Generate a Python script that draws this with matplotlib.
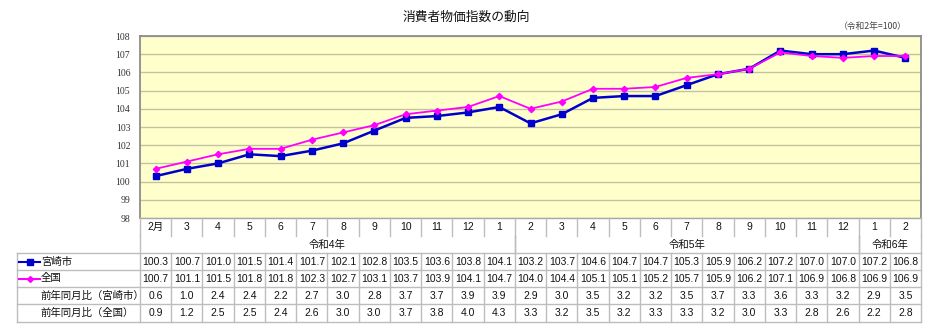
import numpy as np
import matplotlib
matplotlib.use("Agg")
import matplotlib.pyplot as plt
from matplotlib.lines import Line2D
from matplotlib.transforms import blended_transform_factory

plt.rcParams['font.family'] = ['Liberation Sans', 'Noto Sans CJK JP', 'DejaVu Sans']

# 令和4年2月 ～ 令和6年2月
months = ["2月", "3", "4", "5", "6", "7", "8", "9", "10", "11", "12", "1",
          "2", "3", "4", "5", "6", "7", "8", "9", "10", "11", "12", "1", "2"]
years = ["令和4年", "令和5年", "令和6年"]
year_spans = [(0, 12), (12, 23), (23, 25)]

miyazaki = [100.3, 100.7, 101.0, 101.5, 101.4, 101.7, 102.1, 102.8, 103.5, 103.6,
            103.8, 104.1, 103.2, 103.7, 104.6, 104.7, 104.7, 105.3, 105.9, 106.2,
            107.2, 107.0, 107.0, 107.2, 106.8]
zenkoku = [100.7, 101.1, 101.5, 101.8, 101.8, 102.3, 102.7, 103.1, 103.7, 103.9,
           104.1, 104.7, 104.0, 104.4, 105.1, 105.1, 105.2, 105.7, 105.9, 106.2,
           107.1, 106.9, 106.8, 106.9, 106.9]
yoy_miyazaki = [0.6, 1.0, 2.4, 2.4, 2.2, 2.7, 3.0, 2.8, 3.7, 3.7, 3.9, 3.9, 2.9,
                3.0, 3.5, 3.2, 3.2, 3.5, 3.7, 3.3, 3.6, 3.3, 3.2, 2.9, 3.5]
yoy_zenkoku = [0.9, 1.2, 2.5, 2.5, 2.4, 2.6, 3.0, 3.0, 3.7, 3.8, 4.0, 4.3, 3.3,
               3.2, 3.5, 3.2, 3.3, 3.3, 3.2, 3.0, 3.3, 2.8, 2.6, 2.2, 2.8]

W, H = 932, 327
BLUE = "#0000cc"
MAGENTA = "#ff00ff"
LINE_GRAY = "#bdbdbd"


def fy(y):
    # pixel row (from top) -> figure fraction
    return 1 - y / H


def fx(x):
    return x / W


fig = plt.figure(figsize=(W / 100, H / 100), dpi=100)
fig.patch.set_facecolor("white")

left, right, top, bottom = 140, 921, 36, 218
ax = fig.add_axes([fx(left), fy(bottom), fx(right - left), (bottom - top) / H])
ax.set_facecolor("#ffffcc")

x = np.arange(len(months))
ax.plot(x, miyazaki, color=BLUE, lw=1.8, marker="s", ms=4.5, zorder=3)
ax.plot(x, zenkoku, color=MAGENTA, lw=1.3, marker="D", ms=3.2, zorder=3)

ax.set_xlim(-0.5, len(months) - 0.5)
ax.set_ylim(98, 108)
ax.set_yticks(range(98, 109))
ax.set_yticklabels([str(v) for v in range(98, 109)], family="Liberation Serif",
                   fontsize=7, color="#333333")
ax.tick_params(axis="y", length=0, pad=7)
ax.set_xticks([])
ax.grid(axis="y", color="#c2c2a0", lw=1)
ax.set_axisbelow(True)
for side in ["left", "top", "right"]:
    ax.spines[side].set_color("#8c8c8c")
    ax.spines[side].set_linewidth(1.3)
ax.spines["bottom"].set_color("#a8a8a8")
ax.spines["bottom"].set_linewidth(1.0)

fig.text(0.5, fy(17), "消費者物価指数の動向", ha="center", va="center",
         fontsize=9.2, family=["Noto Sans CJK JP"], color="#111111")
fig.text(fx(907), fy(27), "（令和2年=100）", ha="right", va="center",
         fontsize=6.3, family=["Noto Sans CJK JP"], color="#444444")

# table below the plot: x follows the data columns, y in figure coords
tr = blended_transform_factory(ax.transData, fig.transFigure)
rows = [218, 236, 253, 270, 287, 304, 322]
tab_left = 17


def vline(xd, y0, y1, transform=tr):
    fig.add_artist(Line2D([xd, xd], [fy(y0), fy(y1)], transform=transform,
                          color=LINE_GRAY, lw=1))


def hline(y):
    fig.add_artist(Line2D([fx(tab_left), fx(right)], [fy(y), fy(y)],
                          transform=fig.transFigure, color=LINE_GRAY, lw=1))


bounds = np.arange(len(months) + 1) - 0.5
for b in bounds:
    vline(b, rows[0], rows[1])
    vline(b, rows[2], rows[6])
for s, e in year_spans:
    vline(s - 0.5, rows[1], rows[2])
    vline(e - 0.5, rows[1], rows[2])
vline(fx(tab_left), rows[2], rows[6], transform=fig.transFigure)
for r in rows[2:]:
    hline(r)

tkw = dict(ha="center", va="center", fontsize=7.5, color="#111111", transform=tr)
for i, m in enumerate(months):
    fig.text(i, fy(227), m, **tkw)
for (s, e), yname in zip(year_spans, years):
    fig.text((s + e - 1) / 2, fy(244.5), yname, **tkw)

series_rows = [miyazaki, zenkoku, yoy_miyazaki, yoy_zenkoku]
for k, vals in enumerate(series_rows):
    yc = (rows[2 + k] + rows[3 + k]) / 2 + 0.5
    for i, v in enumerate(vals):
        fig.text(i, fy(yc), f"{v:.1f}", **tkw)

# row headers with legend keys
lkw = dict(ha="left", va="center", fontsize=7.5, color="#111111",
           transform=fig.transFigure)
for k, (name, col, mk, ms) in enumerate([("宮崎市", BLUE, "s", 4), ("全国", MAGENTA, "D", 3)]):
    yc = (rows[2 + k] + rows[3 + k]) / 2
    fig.add_artist(Line2D([fx(19), fx(40)], [fy(yc), fy(yc)], transform=fig.transFigure,
                          color=col, lw=1.5, marker=None))
    fig.add_artist(Line2D([fx(29.5)], [fy(yc)], transform=fig.transFigure,
                          color=col, marker=mk, ms=ms, lw=0))
    fig.text(fx(41), fy(yc), name, **lkw)
for k, name in enumerate(["前年同月比（宮崎市）", "前年同月比（全国）"]):
    yc = (rows[4 + k] + rows[5 + k]) / 2
    fig.text(fx(40), fy(yc), name, **lkw)

fig.savefig("out.png", dpi=100, facecolor="white")
